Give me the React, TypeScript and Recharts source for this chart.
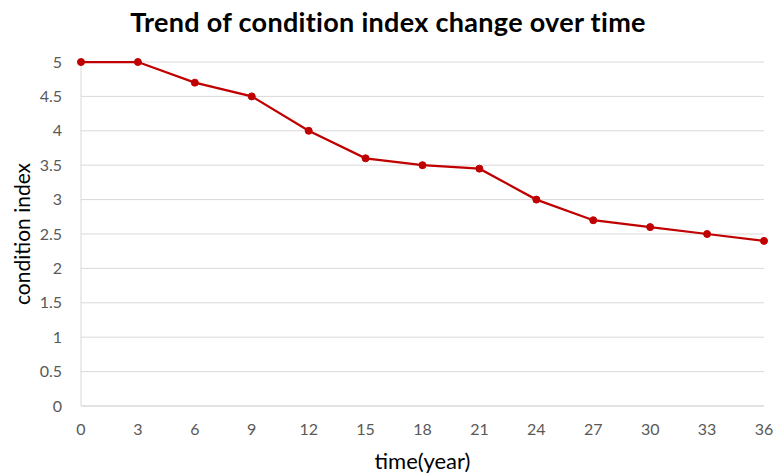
import React from 'react';
import { LineChart, Line, XAxis, YAxis, CartesianGrid, Label } from 'recharts';

const years = [0, 3, 6, 9, 12, 15, 18, 21, 24, 27, 30, 33, 36];
const conditionIndex = [5, 5, 4.7, 4.5, 4.0, 3.6, 3.5, 3.45, 3.0, 2.7, 2.6, 2.5, 2.4];
const yTicks = [0, 0.5, 1, 1.5, 2, 2.5, 3, 3.5, 4, 4.5, 5];
const title = 'Trend of condition index change over time';
const xTitle = 'time(year)';
const yTitle = 'condition index';

const data = years.map((t, i) => ({ t, v: conditionIndex[i] }));

const FONT = 'Lato, "Liberation Sans", sans-serif';
const RED = '#C00000';

export default function App() {
  return (
    <div style={{ position: 'absolute', left: 0, top: 0, width: 776, height: 474, background: '#fff', fontFamily: FONT }}>
      <div style={{ position: 'absolute', left: 0, top: 6, width: 776, textAlign: 'center', fontSize: 27, fontWeight: 700, color: '#000', lineHeight: '32px', letterSpacing: 0.3 }}>
        {title}
      </div>
      <LineChart width={776} height={474} data={data} margin={{ top: 62, right: 12, bottom: 0, left: 0 }}>
        <CartesianGrid vertical={false} stroke="#d9d9d9" />
        <XAxis
          dataKey="t"
          type="number"
          domain={[0, 36]}
          ticks={years}
          tickLine={false}
          tickSize={0}
          tickMargin={18}
          axisLine={{ stroke: '#d9d9d9' }}
          height={68}
          tick={{ fill: '#595959', fontSize: 16, fontFamily: FONT }}
          interval={0}
        >
          <Label
            content={({ viewBox }: any) => (
              <text x={viewBox.x + viewBox.width / 2} y={viewBox.y + viewBox.height - 5} textAnchor="middle" fontSize={22} fill="#000" fontFamily={FONT}>
                {xTitle}
              </text>
            )}
          />
        </XAxis>
        <YAxis
          type="number"
          domain={[0, 5]}
          ticks={yTicks}
          width={81}
          tickLine={false}
          tickSize={0}
          tickMargin={19}
          axisLine={{ stroke: '#d9d9d9' }}
          tick={{ fill: '#595959', fontSize: 16, fontFamily: FONT }}
          interval={0}
        >
          <Label
            content={({ viewBox }: any) => (
              <text
                x={21}
                y={viewBox.y + viewBox.height / 2}
                transform={`rotate(-90, 21, ${viewBox.y + viewBox.height / 2})`}
                textAnchor="middle"
                dominantBaseline="central"
                fontSize={21}
                fill="#000"
                fontFamily={FONT}
              >
                {yTitle}
              </text>
            )}
          />
        </YAxis>
        <Line
          dataKey="v"
          stroke={RED}
          strokeWidth={2.25}
          dot={{ r: 3.5, fill: RED, stroke: RED, strokeWidth: 1 }}
          isAnimationActive={false}
        />
      </LineChart>
    </div>
  );
}
